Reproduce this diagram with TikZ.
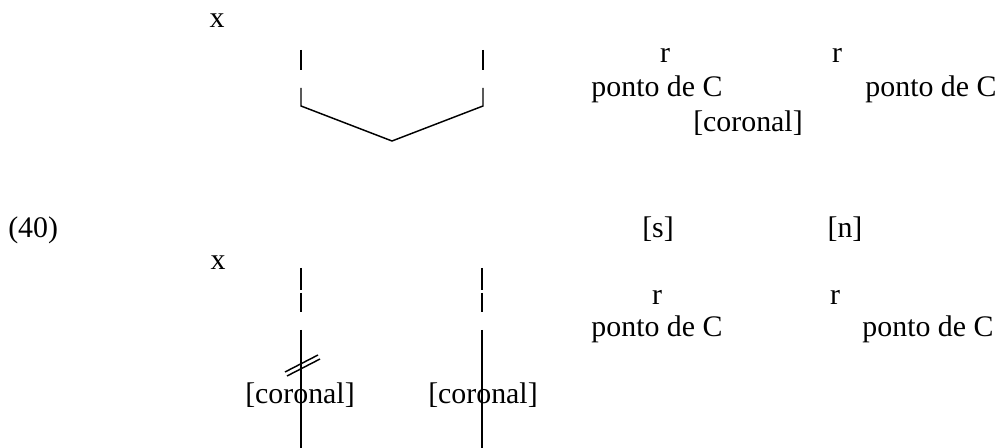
\documentclass[tikz,border=0pt]{standalone}
\usepackage{fontspec}
\setmainfont{Liberation Serif}
\begin{document}
\begin{tikzpicture}[x=0.75pt,y=-0.75pt,
  lbl/.style={inner sep=0pt, anchor=base, font=\fontsize{22.4}{26}\selectfont},
  ln/.style={line width=1.1pt}]
\useasboundingbox (0,0) rectangle (999,448);
% ---------- top structure ----------
\node[lbl] (x1) at (217,28) {x};
\node[lbl] (r1a) at (665,63) {r};
\node[lbl] (r1b) at (837,63) {r};
\node[lbl] (p1a) at (657,97) {ponto de C};
\node[lbl] (p1b) at (931,97) {ponto de C};
\node[lbl] (c1) at (748,132) {[coronal]};
\coordinate (a1) at (301,50);
\coordinate (a2) at (301,70);
\coordinate (a3) at (301,88);
\coordinate (a4) at (301,106);
\coordinate (b1) at (483,50);
\coordinate (b2) at (483,70);
\coordinate (b3) at (483,88);
\coordinate (b4) at (483,106);
\coordinate (v) at (392,141);
\draw[ln] (a1) -- (a2);
\draw[ln] (b1) -- (b2);
\draw[ln] (a3) -- (a4) -- (v) -- (b4) -- (b3);
% ---------- bottom structure ----------
\node[lbl, anchor=base west] (ex) at (8,238) {(40)};
\node[lbl] (s) at (658,238) {[s]};
\node[lbl] (n) at (845,238) {[n]};
\node[lbl] (x2) at (218,270) {x};
\node[lbl] (r2a) at (657,305) {r};
\node[lbl] (r2b) at (835,305) {r};
\node[lbl] (p2a) at (657,337) {ponto de C};
\node[lbl] (p2b) at (928,337) {ponto de C};
\node[lbl] (c2a) at (300,404) {[coronal]};
\node[lbl] (c2b) at (483,404) {[coronal]};
\coordinate (d1) at (301,268);
\coordinate (d2) at (301,290);
\coordinate (d3) at (301,293);
\coordinate (d4) at (301,312);
\coordinate (d5) at (301,330);
\coordinate (d6) at (301,448);
\coordinate (e1) at (482,268);
\coordinate (e2) at (482,290);
\coordinate (e3) at (482,293);
\coordinate (e4) at (482,312);
\coordinate (e5) at (482,330);
\coordinate (e6) at (482,448);
\draw[ln] (d1) -- (d2);
\draw[ln] (d3) -- (d4);
\draw[ln] (d5) -- (d6);
\draw[ln] (e1) -- (e2);
\draw[ln] (e3) -- (e4);
\draw[ln] (e5) -- (e6);
\coordinate (s1a) at (285,372);
\coordinate (s1b) at (318,355);
\coordinate (s2a) at (287,376);
\coordinate (s2b) at (320,359);
\draw[ln] (s1a) -- (s1b);
\draw[ln] (s2a) -- (s2b);
\end{tikzpicture}
\end{document}
